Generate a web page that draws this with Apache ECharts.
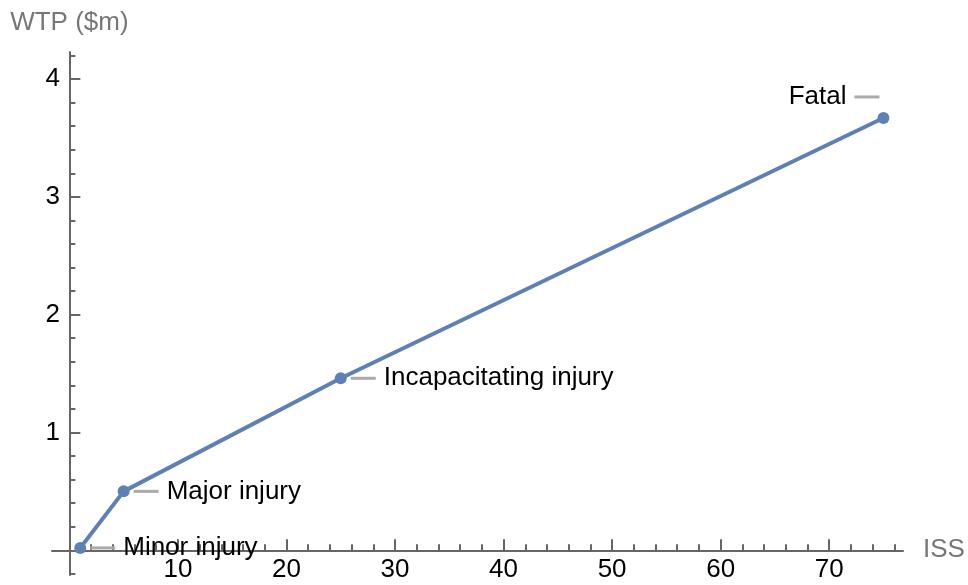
<!DOCTYPE html>
<html>
<head>
<meta charset="utf-8">
<script src="https://cdn.jsdelivr.net/npm/echarts@6/dist/echarts.min.js"></script>
<style>
	html, body { margin: 0; padding: 0; background: #fff; }
	#chart { width: 968px; height: 585px; }
</style>
</head>
<body>
<div id="chart"></div>
<script>
	// 数据
	var injuryNames = ["Minor injury", "Major injury", "Incapacitating injury", "Fatal"];
	var issValues = [1, 5, 25, 75];
	var wtpValues = [0.02, 0.5, 1.46, 3.67];

	// 刻度
	var xMajorTicks = [10, 20, 30, 40, 50, 60, 70];
	var xMinorTicks = [2, 4, 6, 8, 12, 14, 16, 18, 22, 24, 26, 28, 32, 34, 36, 38, 42, 44, 46, 48, 52, 54, 56, 58, 62, 64, 66, 68, 72, 74, 76];
	var yMajorTicks = [1, 2, 3, 4];
	var yMinorTicks = [-0.2, 0.2, 0.4, 0.6, 0.8, 1.2, 1.4, 1.6, 1.8, 2.2, 2.4, 2.6, 2.8, 3.2, 3.4, 3.6, 3.8, 4.2];

	var axisColor = "#666666";
	var fontFamily = "Liberation Sans, Arial, sans-serif";

	var chart = echarts.init(document.getElementById("chart"));

	var points = [];
	for (var i = 0; i < issValues.length; i++) {
		var p = { name: injuryNames[i], value: [issValues[i], wtpValues[i]] };
		if (i == injuryNames.length - 1) {
			/* Fatal 标签在左上 */
			p.label = {
				position: "left",
				distance: -2,
				offset: [0, -21],
				formatter: "{t|{b}}{l|}"
			};
		}
		points.push(p);
	}

	var xBase = {
		type: "value",
		min: -1.6,
		max: 76.8,
		position: "bottom",
		splitLine: { show: false }
	};
	var yBase = {
		type: "value",
		min: -0.21,
		max: 4.23,
		position: "left",
		splitLine: { show: false }
	};

	var option = {
		animation: false,
		grid: { left: 52, right: 65, top: 52, bottom: 10, containLabel: false, outerBoundsMode: "none" },
		xAxis: [
			Object.assign({}, xBase, {
				name: "ISS",
				nameLocation: "end",
				nameGap: 20,
				nameTextStyle: { color: "#777777", fontSize: 26, fontFamily: fontFamily },
				axisLine: { show: true, onZero: true, lineStyle: { color: axisColor, width: 2 } },
				axisTick: { show: true, inside: true, length: 11, customValues: xMajorTicks, lineStyle: { color: axisColor, width: 2 } },
				// 标签不随 onZero 移动, 用负 margin 贴近轴线
				axisLabel: { show: true, customValues: xMajorTicks, margin: -18, color: "#000", fontSize: 26, fontFamily: fontFamily }
			}),
			Object.assign({}, xBase, {
				axisLine: { show: false, onZero: true },
				axisTick: { show: true, inside: true, length: 6, customValues: xMinorTicks, lineStyle: { color: axisColor, width: 2 } },
				axisLabel: { show: false }
			})
		],
		yAxis: [
			Object.assign({}, yBase, {
				name: "WTP ($m)",
				nameLocation: "end",
				nameGap: 16,
				nameTextStyle: { color: "#777777", fontSize: 26, fontFamily: fontFamily },
				axisLine: { show: true, onZero: true, lineStyle: { color: axisColor, width: 2 } },
				axisTick: { show: true, inside: true, length: 11, customValues: yMajorTicks, lineStyle: { color: axisColor, width: 2 } },
				axisLabel: { show: true, customValues: yMajorTicks, margin: -8, color: "#000", fontSize: 26, fontFamily: fontFamily }
			}),
			Object.assign({}, yBase, {
				axisLine: { show: false, onZero: true },
				axisTick: { show: true, inside: true, length: 6, customValues: yMinorTicks, lineStyle: { color: axisColor, width: 2 } },
				axisLabel: { show: false }
			})
		],
		series: [{
			name: "WTP",
			type: "line",
			xAxisIndex: 0,
			yAxisIndex: 0,
			data: points,
			symbol: "circle",
			symbolSize: 12,
			lineStyle: { color: "#5E81B5", width: 4 },
			itemStyle: { color: "#5E81B5" },
			label: {
				show: true,
				position: "right",
				distance: 4,
				formatter: "{l|}{t|{b}}",
				rich: {
					l: { width: 25, height: 3, backgroundColor: "#aaaaaa" },
					t: { color: "#000", fontSize: 26, fontFamily: fontFamily, padding: [0, 8, 0, 8] }
				}
			}
		}]
	};
	chart.setOption(option);
</script>
</body>
</html>
